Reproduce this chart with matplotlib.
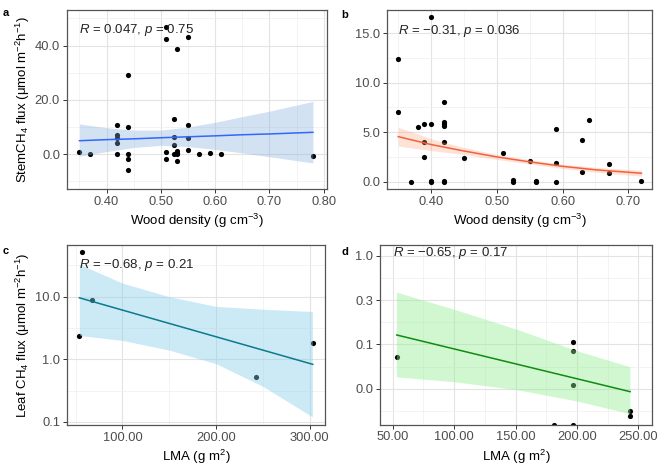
import matplotlib
matplotlib.use('Agg')
import matplotlib.pyplot as plt
from matplotlib.ticker import FixedLocator, FixedFormatter, NullFormatter

plt.rcParams['font.family'] = 'Liberation Sans'
plt.rcParams['mathtext.fontset'] = 'custom'
plt.rcParams['mathtext.rm'] = 'Liberation Sans'
plt.rcParams['mathtext.it'] = 'Liberation Sans:italic'

# ---------------- panel a: stem flux vs wood density ----------------
a_x = [0.35, 0.37, 0.42, 0.42, 0.42, 0.42, 0.42, 0.44, 0.44, 0.44, 0.44, 0.44,
       0.51, 0.51, 0.51, 0.51, 0.525, 0.525, 0.525, 0.525, 0.53, 0.53, 0.53, 0.53, 0.53,
       0.55, 0.55, 0.55, 0.55, 0.57, 0.59, 0.61, 0.78]
a_y = [0.6, 0.0, 10.8, 7.0, 6.0, 3.9, 0.0, 29.0, 10.1, 0.0, -1.8, -5.9,
       47.0, 42.3, 0.6, -1.8, 12.8, 6.2, 3.3, -0.1, 38.6, 1.2, 0.5, 0.0, -2.6,
       43.3, 10.7, 5.8, 1.5, 0.0, 0.3, -0.1, -0.6]
a_fit_x = [0.35, 0.40, 0.45, 0.50, 0.55, 0.60, 0.65, 0.70, 0.78]
a_fit_y = [4.9, 5.3, 5.6, 6.0, 6.35, 6.7, 7.1, 7.4, 8.0]
a_lo = [-0.8, 0.9, 2.4, 3.2, 2.75, 1.7, 0.4, -1.0, -3.3]
a_hi = [11.1, 9.7, 8.8, 8.8, 9.95, 11.7, 13.8, 15.8, 19.4]

# ---------------- panel b ----------------
b_x = [0.40, 0.35, 0.35, 0.37, 0.38, 0.39, 0.39, 0.39, 0.40, 0.40, 0.40,
       0.42, 0.42, 0.42, 0.42, 0.42, 0.42, 0.42, 0.45, 0.51, 0.525, 0.525,
       0.55, 0.56, 0.56, 0.59, 0.59, 0.59, 0.63, 0.63, 0.64, 0.67, 0.67, 0.72]
b_y = [16.6, 12.4, 7.0, 0.0, 5.5, 5.8, 4.0, 2.5, 5.8, 0.1, 0.0,
       8.0, 6.0, 5.8, 5.6, 4.0, 0.1, 0.0, 2.35, 2.85, 0.15, 0.0,
       2.05, 0.0, 0.05, 5.3, 1.9, 0.0, 4.2, 1.0, 6.25, 1.8, 0.85, 0.1]
b_fit_x = [0.35, 0.40, 0.45, 0.50, 0.55, 0.60, 0.65, 0.72]
b_fit_y = [4.55, 3.75, 3.1, 2.5, 2.0, 1.55, 1.2, 0.85]
b_lo = [3.6, 3.15, 2.75, 2.25, 1.78, 1.33, 0.95, 0.55]
b_hi = [5.5, 4.35, 3.45, 2.75, 2.22, 1.77, 1.45, 1.15]

# ---------------- panel c: leaf flux vs LMA ----------------
c_x = [56.8, 53.9, 67.4, 242.4, 304.0]
c_y = [51.0, 2.36, 9.0, 0.53, 1.8]
c_fit_x = [54.0, 303.4]
c_fit_y = [9.6, 0.83]
c_band_x = [54, 100, 150, 200, 250, 303]
c_lo = [2.4, 2.0, 1.4, 0.85, 0.37, 0.12]
c_hi = [33.0, 16.5, 10.0, 7.0, 6.3, 5.8]

# ---------------- panel d ----------------
d_x = [53.3, 196.6, 196.6, 196.6, 243.2, 243.2, 181.4, 196.6]
d_y = [0.072, 0.106, 0.0845, 0.035, 0.0179, 0.0156, 0.01247, 0.01247]
d_fit_x = [53.3, 243.2]
d_fit_y = [0.128, 0.0293]
d_band_x = [53, 100, 150, 200, 243]
d_lo = [0.043, 0.038, 0.031, 0.023, 0.0165]
d_hi = [0.39, 0.25, 0.15, 0.085, 0.056]

# ticks
a_xt = [0.40, 0.50, 0.60, 0.70, 0.80]
a_yt = [0.0, 20.0, 40.0]
b_xt = [0.40, 0.50, 0.60, 0.70]
b_yt = [0.0, 5.0, 10.0, 15.0]
c_xt = [100.0, 200.0, 300.0]
c_yt = [0.1, 1.0, 10.0]
c_yl = ['0.1', '1.0', '10.0']
d_xt = [50.0, 100.0, 150.0, 200.0, 250.0]
d_yt = [10 ** -1.5, 0.1, 10 ** -0.5, 1.0]
d_yl = ['0.0', '0.1', '0.3', '1.0']

W, H = 659, 469
fig = plt.figure(figsize=(W / 100, H / 100), dpi=100)


def px_axes(l, t, r, b):
    return fig.add_axes([l / W, 1 - b / H, (r - l) / W, (b - t) / H])


def style(ax, xt, xl, xminor, yt, yl, yminor):
    ax.xaxis.set_major_locator(FixedLocator(xt))
    ax.xaxis.set_major_formatter(FixedFormatter(xl))
    ax.yaxis.set_major_locator(FixedLocator(yt))
    ax.yaxis.set_major_formatter(FixedFormatter(yl))
    ax.xaxis.set_minor_locator(FixedLocator(xminor))
    ax.yaxis.set_minor_locator(FixedLocator(yminor))
    ax.xaxis.set_minor_formatter(NullFormatter())
    ax.yaxis.set_minor_formatter(NullFormatter())
    ax.grid(which='major', color='#E3E3E3', lw=0.8)
    ax.grid(which='minor', color='#EFEFEF', lw=0.5)
    ax.set_axisbelow(True)
    ax.tick_params(which='major', length=3, width=0.7, color='#333333',
                   labelsize=9.3, labelcolor='#4D4D4D', pad=2)
    ax.tick_params(which='minor', length=0)
    for s in ax.spines.values():
        s.set_color('#555555')
        s.set_linewidth(0.9)


def rtext(ax, s, x, y):
    ax.text(x, y, s, transform=ax.transAxes, ha='left', va='center',
            fontsize=9.5, color='#222222')


# a
ax = px_axes(67, 10, 327, 189)
ax.scatter(a_x, a_y, s=14, color='black', zorder=2, linewidths=0)
ax.fill_between(a_fit_x, a_lo, a_hi, color='#7FAEDB', alpha=0.35, lw=0, zorder=3)
ax.plot(a_fit_x, a_fit_y, color='#3366FF', lw=1.1, zorder=4)
ax.set_xlim(0.327, 0.806)
ax.set_ylim(-12.9, 53.1)
style(ax, a_xt, ['%.2f' % v for v in a_xt], [0.35, 0.45, 0.55, 0.65, 0.75],
      a_yt, ['%.1f' % v for v in a_yt], [-10, 10, 30, 50])
ax.set_xlabel('Wood density (g cm$^{-3}$)', fontsize=9.5, labelpad=3)
ax.set_ylabel('StemCH$_4$ flux (μmol m$^{-2}$h$^{-1}$)', fontsize=9.5, labelpad=2)
rtext(ax, '$R$ = 0.047, $p$ = 0.75', 0.046, 0.888)
fig.text(3 / W, 1 - 13 / H, 'a', fontsize=8, fontweight='bold', va='center')

# b
ax = px_axes(387, 10, 652, 189)
ax.scatter(b_x, b_y, s=14, color='black', zorder=2, linewidths=0)
ax.fill_between(b_fit_x, b_lo, b_hi, color='#FFA07A', alpha=0.3, lw=0, zorder=3)
ax.plot(b_fit_x, b_fit_y, color='#F2613F', lw=1.1, zorder=4)
ax.set_xlim(0.333, 0.736)
ax.set_ylim(-0.74, 17.34)
style(ax, b_xt, ['%.2f' % v for v in b_xt], [0.35, 0.45, 0.55, 0.65],
      b_yt, ['%.1f' % v for v in b_yt], [2.5, 7.5, 12.5])
ax.set_xlabel('Wood density (g cm$^{-3}$)', fontsize=9.5, labelpad=3)
rtext(ax, '$R$ = −0.31, $p$ = 0.036', 0.042, 0.884)
fig.text(341 / W, 1 - 15 / H, 'b', fontsize=8, fontweight='bold', va='center')

# c
ax = px_axes(67, 245, 325, 425)
ax.set_yscale('log')
ax.scatter(c_x, c_y, s=14, color='black', zorder=2, linewidths=0)
ax.fill_between(c_band_x, c_lo, c_hi, color='#87CEEB', alpha=0.42, lw=0, zorder=3)
ax.plot(c_fit_x, c_fit_y, color='#0B7A8A', lw=1.1, zorder=4)
ax.set_xlim(40.8, 316.5)
ax.set_ylim(0.089, 67)
style(ax, c_xt, ['%.2f' % v for v in c_xt], [50, 150, 250],
      c_yt, c_yl, [10 ** -0.5, 10 ** 0.5, 10 ** 1.5])
ax.set_xlabel('LMA (g m$^{2}$)', fontsize=9.5, labelpad=3)
ax.set_ylabel('Leaf CH$_4$ flux (μmol m$^{-2}$h$^{-1}$)', fontsize=9.5, labelpad=2)
rtext(ax, '$R$ = −0.68, $p$ = 0.21', 0.046, 0.889)
fig.text(3 / W, 1 - 251 / H, 'c', fontsize=8, fontweight='bold', va='center')

# d
ax = px_axes(380, 245, 652, 424.5)
ax.set_yscale('log')
ax.scatter(d_x, d_y, s=14, color='black', zorder=2, linewidths=0)
ax.fill_between(d_band_x, d_lo, d_hi, color='#90EE90', alpha=0.42, lw=0, zorder=3)
ax.plot(d_fit_x, d_fit_y, color='#118A11', lw=1.1, zorder=4)
ax.set_xlim(39.7, 261)
ax.set_ylim(0.01247, 1.33)
style(ax, d_xt, ['%.2f' % v for v in d_xt], [75, 125, 175, 225],
      d_yt, d_yl, [10 ** -1.75, 10 ** -1.25, 10 ** -0.75, 10 ** -0.25])
ax.set_xlabel('LMA (g m$^{2}$)', fontsize=9.5, labelpad=3)
rtext(ax, '$R$ = −0.65, $p$ = 0.17', 0.048, 0.954)
fig.text(341 / W, 1 - 252 / H, 'd', fontsize=8, fontweight='bold', va='center')

fig.savefig('out.png', dpi=100)
